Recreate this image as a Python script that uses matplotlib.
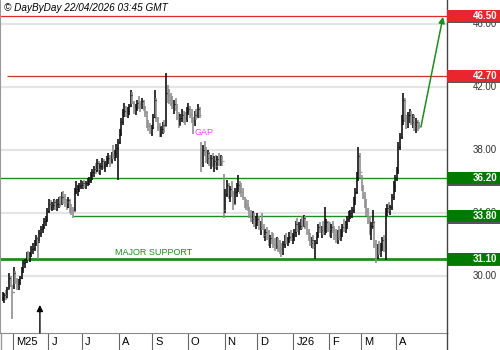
import matplotlib
matplotlib.use("Agg")
import matplotlib.pyplot as plt
import matplotlib.transforms as mtransforms
from matplotlib.patches import Rectangle
from matplotlib.lines import Line2D
import pandas as pd

plt.rcParams['font.family'] = ['Liberation Sans', 'DejaVu Sans']

# daily bars, 22/04/2025 -> 21/04/2026 (one row per month)
highs = [
    29.0, 28.9, 29.1, 29.3, 30.2, 30.0, 29.4,
    30.6, 30.3, 29.9, 29.8, 30.0, 30.6, 31.0, 31.1, 31.5, 31.6, 31.5, 31.9, 32.1, 32.3, 32.6, 32.5, 32.9, 33.2, 33.3, 33.7, 33.8, 34.3,
    34.9, 34.8, 34.7, 34.9, 34.8, 34.9, 35.0, 35.1, 35.3, 35.4, 35.2, 34.9, 35.0, 34.9, 34.6, 34.4, 35.6, 36.0, 35.8, 35.9, 36.1,
    36.0, 36.1, 36.0, 36.2, 36.3, 36.6, 36.8, 37.0, 37.2, 37.4, 37.3, 37.2, 37.5, 37.4, 37.3, 37.6, 37.8, 37.7, 37.9, 38.3, 38.0, 38.4, 38.7,
    39.3, 40.0, 40.6, 41.0, 40.8, 40.7, 40.9, 41.8, 41.7, 41.1, 40.9, 41.2, 41.4, 41.1, 41.3, 41.2, 40.8, 40.5, 39.9, 39.7, 39.6,
    40.3, 41.8, 41.3, 40.1, 39.7, 39.5, 39.8, 39.9, 42.9, 42.1, 41.9, 41.6, 41.4, 41.2, 41.3, 40.9, 40.4, 40.3, 40.6, 40.5, 40.4, 40.7,
    41.0, 40.8, 40.6, 40.1, 40.5, 40.6, 40.9, 40.7, 38.5, 38.3, 38.6, 38.2, 38.0, 37.9, 37.7, 37.8, 37.6, 37.7, 37.6, 37.8, 37.7, 37.6, 36.5,
    35.5, 36.1, 35.9, 35.7, 36.0, 35.4, 35.6, 35.9, 36.4, 36.0, 35.9, 35.6, 35.0, 34.9, 34.8, 34.4, 34.2, 34.1, 34.0, 33.8,
    34.0, 33.8, 33.5, 34.0, 33.3, 33.0, 33.1, 32.9, 32.6, 32.8, 32.7, 32.4, 32.5, 32.4, 32.3, 32.1, 32.2, 32.6, 32.7, 32.5, 32.8, 32.9, 32.7,
    33.0, 33.5, 33.7, 33.4, 33.6, 33.8, 33.9, 33.8, 33.5, 33.0, 32.7, 32.5, 32.6, 32.3, 32.8, 33.3, 33.4, 33.2, 33.5, 34.4, 33.6, 33.5,
    33.4, 33.3, 33.5, 33.2, 33.0, 32.9, 33.2, 33.0, 33.3, 33.6, 33.5, 33.8, 34.1, 34.2, 34.4, 35.0, 35.6, 36.6, 38.2, 37.8,
    36.4, 35.8, 35.3, 34.9, 34.3, 33.8, 33.4, 34.2, 33.5, 32.3, 32.0, 32.2, 32.1, 32.5, 32.6, 34.3, 34.6, 34.7, 34.5, 35.2, 36.0, 36.4,
    36.9, 38.5, 39.1, 40.2, 41.6, 41.3, 40.2, 40.4, 40.6, 40.5, 40.3, 40.2, 40.0, 39.9, 39.8,
]
lows = [
    28.4, 28.3, 28.5, 28.6, 29.2, 29.3, 27.3,
    29.2, 29.5, 29.1, 29.1, 29.4, 29.8, 30.2, 30.5, 30.8, 31.0, 30.9, 31.2, 31.4, 31.6, 31.9, 31.1, 32.1, 32.5, 32.7, 33.0, 33.2, 33.4,
    34.0, 34.2, 34.1, 34.2, 34.2, 34.1, 34.3, 34.4, 34.5, 34.6, 34.4, 34.2, 34.3, 34.0, 33.9, 33.7, 34.1, 35.2, 35.1, 35.3, 35.5,
    35.5, 35.6, 35.5, 35.7, 35.8, 35.9, 36.1, 36.3, 36.5, 36.6, 36.5, 36.4, 36.7, 36.8, 36.6, 36.9, 37.1, 36.9, 37.2, 37.4, 37.3, 37.5, 36.1,
    38.4, 38.9, 39.6, 40.1, 40.1, 40.0, 40.2, 40.7, 40.9, 40.3, 40.2, 40.5, 40.6, 40.4, 40.6, 40.5, 40.1, 39.4, 39.2, 39.0, 38.9,
    39.3, 40.0, 39.8, 39.2, 38.8, 38.8, 39.0, 39.1, 39.5, 41.0, 40.9, 40.8, 40.6, 40.3, 40.5, 39.9, 39.4, 39.5, 39.8, 39.7, 39.6, 39.8,
    40.2, 40.0, 39.7, 39.0, 39.5, 39.9, 40.0, 40.0, 36.6, 36.9, 37.6, 37.2, 37.1, 37.0, 36.8, 36.9, 36.6, 36.8, 36.7, 37.0, 37.0, 37.0, 33.7,
    34.0, 35.0, 34.9, 34.7, 35.0, 34.2, 34.6, 35.0, 35.3, 35.2, 35.0, 34.8, 34.3, 34.2, 34.1, 33.7, 33.4, 33.3, 33.1, 33.0,
    33.2, 32.9, 32.6, 32.9, 32.4, 32.2, 32.3, 31.9, 31.8, 32.0, 31.8, 31.6, 31.7, 31.5, 31.4, 31.2, 31.3, 31.8, 32.0, 31.9, 32.1, 32.2, 32.0,
    32.2, 32.5, 32.8, 32.6, 32.9, 33.0, 33.1, 33.0, 32.6, 32.2, 31.9, 31.8, 31.7, 31.1, 32.0, 32.4, 32.7, 32.4, 32.6, 32.6, 32.7, 32.8,
    32.5, 32.4, 32.7, 32.3, 32.1, 32.0, 32.3, 32.2, 32.5, 32.8, 32.7, 33.0, 33.4, 33.6, 33.7, 34.0, 34.5, 35.2, 36.0, 36.2,
    35.4, 34.9, 34.3, 33.8, 33.3, 32.6, 32.3, 33.0, 31.8, 30.8, 31.1, 31.3, 31.2, 31.6, 31.5, 31.0, 33.8, 34.0, 33.9, 34.2, 34.8, 35.3,
    36.0, 36.5, 38.0, 38.7, 39.6, 39.8, 39.3, 39.4, 39.7, 39.6, 39.4, 39.2, 39.1, 39.2, 39.3,
]
closes = [
    28.6, 28.8, 28.6, 29.2, 29.9, 29.4, 29.0,
    30.2, 29.7, 29.3, 29.6, 29.9, 30.5, 30.8, 30.9, 31.3, 31.2, 31.4, 31.7, 31.8, 32.1, 32.4, 32.2, 32.7, 33.0, 33.1, 33.5, 33.6, 34.1,
    34.6, 34.4, 34.5, 34.7, 34.3, 34.6, 34.8, 34.6, 35.0, 34.9, 34.7, 34.4, 34.8, 34.3, 34.2, 34.1, 35.4, 35.5, 35.6, 35.7, 35.8,
    35.9, 35.8, 35.9, 36.0, 36.1, 36.4, 36.6, 36.8, 36.7, 37.2, 36.8, 37.0, 37.3, 37.0, 37.1, 37.4, 37.5, 37.2, 37.7, 37.6, 37.8, 38.1, 38.5,
    39.1, 39.8, 40.4, 40.5, 40.3, 40.5, 40.8, 41.5, 41.0, 40.6, 40.7, 41.0, 40.9, 40.8, 41.1, 40.7, 40.4, 39.7, 39.5, 39.3, 39.4,
    40.1, 41.2, 40.0, 39.5, 39.0, 39.3, 39.6, 39.5, 41.6, 41.5, 41.2, 41.0, 40.8, 40.9, 40.7, 40.1, 39.6, 40.0, 40.2, 40.0, 39.9, 40.5,
    40.6, 40.3, 39.9, 39.6, 40.2, 40.1, 40.6, 40.2, 37.2, 38.0, 37.9, 37.5, 37.8, 37.3, 37.5, 37.1, 37.3, 37.0, 37.4, 37.2, 37.5, 37.3, 34.2,
    35.2, 35.8, 35.1, 35.5, 35.2, 34.6, 35.3, 35.6, 35.8, 35.4, 35.3, 35.0, 34.6, 34.5, 34.3, 33.9, 33.6, 33.8, 33.4, 33.5,
    33.6, 33.1, 33.2, 33.0, 32.6, 32.8, 32.5, 32.2, 32.4, 32.3, 32.0, 31.9, 32.2, 31.8, 31.7, 31.5, 32.0, 32.3, 32.2, 32.4, 32.5, 32.4, 32.6,
    32.8, 33.3, 33.0, 33.2, 33.4, 33.2, 33.7, 33.3, 32.8, 32.4, 32.1, 32.3, 31.9, 32.1, 32.6, 33.1, 32.9, 33.0, 32.8, 33.2, 33.4, 33.0,
    32.9, 33.1, 33.0, 32.6, 32.4, 32.7, 32.5, 32.8, 33.1, 33.0, 33.3, 33.6, 33.9, 34.0, 34.2, 34.8, 35.3, 36.3, 37.6, 36.6,
    35.6, 35.1, 34.5, 34.1, 33.5, 32.9, 33.2, 33.4, 32.0, 31.3, 31.6, 31.5, 31.9, 32.3, 31.8, 34.1, 34.3, 34.2, 34.4, 35.0, 35.7, 36.2,
    36.7, 38.2, 38.8, 39.9, 41.2, 40.0, 39.6, 40.2, 40.4, 39.8, 40.1, 39.5, 39.8, 39.6, 39.5,
]
dates = pd.bdate_range("2025-04-22", "2026-04-21")

month_labels = ["M25", "J", "J", "A", "S", "O", "N", "D", "J26", "F", "M", "A"]
resistances = [46.50, 42.70]
supports = [36.20, 33.80, 31.10]
price_ticks = [30, 34, 38, 42, 46]

RED = "#e8262b"
GREEN = "#1e8c1e"
BOXGREEN = "#007a00"

fig = plt.figure(figsize=(5, 3.5), dpi=100)
ax = fig.add_axes([0, 17 / 350, 447 / 500, 333 / 350])

n = len(closes)
xs = list(range(n))
opens = [closes[0]] + closes[:-1]
cols = ["#111111" if c >= o else "#8f8f8f" for o, c in zip(opens, closes)]
ax.vlines(xs, lows, highs, colors=cols, lw=1.2, zorder=3)
ax.hlines(opens, [x - 0.5 for x in xs], xs, colors=cols, lw=0.8, zorder=3)
ax.hlines(closes, xs, [x + 0.5 for x in xs], colors=cols, lw=0.8, zorder=3)

x0, x1 = -1.6, 277.3
ax.set_xlim(x0, x1)
ax.set_ylim(26.38, 47.52)

for p in price_ticks:
    ax.axhline(p, color="#e4e4e4", lw=1.6, zorder=1)

# levels
ax.axhline(resistances[0], color=RED, lw=0.9, zorder=2)
ax.hlines(resistances[1], 3, x1, color="#c8302f", lw=0.9, zorder=2)
ax.axhline(supports[0], color=GREEN, lw=1.0, zorder=2)
ax.hlines(supports[1], 44, x1, color=GREEN, lw=1.0, zorder=2)
ax.axhline(supports[2], color=GREEN, lw=2.0, zorder=2)

ax.text(70, 31.22, "MAJOR SUPPORT", color=GREEN, fontsize=6.5, va="bottom", ha="left")
ax.text(120, 38.95, "GAP", color="#ff40ff", fontsize=6.5, va="baseline", ha="left")

# arrows
ax.annotate("", xy=(23.3, 28.16), xytext=(23.3, 26.38),
            arrowprops=dict(arrowstyle="-|>", color="black", lw=1.0, mutation_scale=9,
                            shrinkA=0, shrinkB=0))
ax.annotate("", xy=(274.8, 46.45), xytext=(261.0, 39.45),
            arrowprops=dict(arrowstyle="-|>", color=GREEN, lw=1.1, mutation_scale=9,
                            shrinkA=0, shrinkB=0))

# header
ax.text(4 / 447, 1 - 8 / 333, "\u00a9 DayByDay 22/04/2026 03:45 GMT", transform=ax.transAxes,
        fontsize=7.2, style="italic", va="center", ha="left")

# right price scale
trans = mtransforms.blended_transform_factory(ax.transAxes, ax.transData)
for p in price_ticks:
    ax.text(497 / 447, p, "%.2f" % p, transform=trans, fontsize=7, color="#333333",
            ha="right", va="center", clip_on=False)

box_w = 53 / 447
box_h = 12 / 15.75
for lvl, col in [(resistances[0], RED), (resistances[1], RED),
                 (supports[0], BOXGREEN), (supports[1], BOXGREEN), (supports[2], BOXGREEN)]:
    ax.add_patch(Rectangle((1.0, lvl - box_h / 2 - 0.09), box_w, box_h, transform=trans,
                           facecolor="#555555", edgecolor="none", clip_on=False, zorder=5))
    ax.add_patch(Rectangle((1.0, lvl - box_h / 2), box_w, box_h, transform=trans,
                           facecolor=col, edgecolor="none", clip_on=False, zorder=6))
    ax.text(497 / 447, lvl, "%.2f" % lvl, transform=trans, fontsize=7, color="white",
            fontweight="bold", ha="right", va="center", clip_on=False, zorder=7)

# month strip
bounds = [i - 0.5 for i in range(1, n) if dates[i].month != dates[i - 1].month]
ax.set_xticks(bounds)
ax.set_xticklabels([])
ax.tick_params(axis="x", direction="out", length=12.5, width=0.8, color="#666666")
ax.set_yticks([])
for b, lab in zip(bounds, month_labels):
    ax.text(b + 1.9, -9 / 333, lab, transform=mtransforms.blended_transform_factory(ax.transData, ax.transAxes),
            fontsize=8, ha="left", va="center", clip_on=False)

for s in ["top"]:
    ax.spines[s].set_visible(False)
ax.spines["left"].set_color("#999999")
ax.spines["bottom"].set_color("#8a8a8a")
ax.spines["right"].set_color("#444444")
ax.spines["right"].set_linewidth(1.0)
fig.add_artist(Line2D([447 / 500, 447 / 500], [0, 17 / 350], color="#444444", lw=1.0))
fig.add_artist(Line2D([0.5 / 500, 0.5 / 500], [0, 17 / 350], color="#999999", lw=1.0))

fig.savefig("out.png", dpi=100)
